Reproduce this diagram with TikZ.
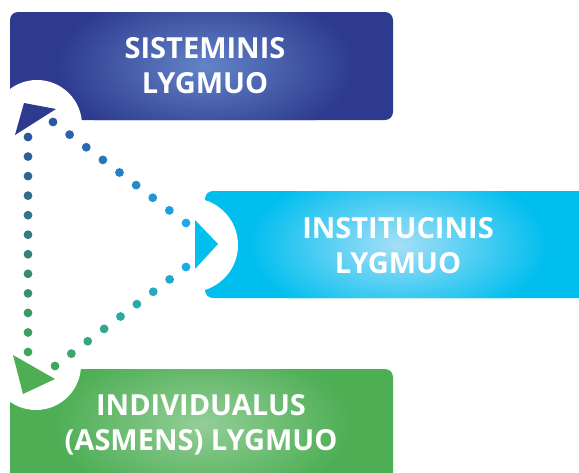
\documentclass[tikz,border=0pt]{standalone}
\usepackage{fontspec}
\setmainfont{Open Sans}
\usetikzlibrary{calc}

\definecolor{sysblue}{HTML}{2D3A8E}
\definecolor{syslight}{HTML}{6384C8}
\definecolor{instblue}{HTML}{00BEEE}
\definecolor{instlight}{HTML}{A6DFF7}
\definecolor{indgreen}{HTML}{4DAE54}
\definecolor{indlight}{HTML}{93CE97}
\definecolor{sysdot}{HTML}{2B56A3}
\definecolor{instdot}{HTML}{1CABE2}
\definecolor{inddot}{HTML}{3FA65A}

% dots from #1 to #2, #3 gaps, colour #4 -> #5
\newcommand{\dotrow}[5]{%
  \foreach \i in {0,...,#3}{
    \pgfmathsetmacro{\t}{\i/#3}
    \pgfmathtruncatemacro{\pc}{100-100*\i/#3}
    \fill[#4!\pc!#5] ($(#1)!\t!(#2)$) circle (4.4pt);
  }}

\begin{document}
\begin{tikzpicture}[x=1pt,y=-1pt]

    \tikzset{
      levelbox/.style={rounded corners=8pt},
      leveltext/.style={
        text=white,
        font=\bfseries\fontsize{29}{35}\selectfont,
        align=center,
      },
    }
    \useasboundingbox (0,0) rectangle (579,472);

    % boxes with a light glow in the middle
    \fill[levelbox, sysblue] (10,12) rectangle (393,120);
    \begin{scope}
      \clip[levelbox] (10,12) rectangle (393,120);
      \shade[inner color=syslight, outer color=sysblue] (205,66) ellipse (150pt and 80pt);
    \end{scope}
    \fill[levelbox, instblue] (205,191) rectangle (600,298);
    \begin{scope}
      \clip[levelbox] (205,191) rectangle (600,298);
      \shade[inner color=instlight, outer color=instblue] (398,245) ellipse (150pt and 80pt);
    \end{scope}
    \fill[levelbox, indgreen] (10,369) rectangle (393,490);
    \begin{scope}
      \clip[levelbox] (10,369) rectangle (393,490);
      \shade[inner color=indlight, outer color=indgreen] (202,424) ellipse (150pt and 80pt);
    \end{scope}

    % white cut-outs round the arrow heads
    \fill[white] (37,125) circle (45pt);
    \fill[white] (191,245) circle (47pt);
    \fill[white] (36,365) circle (45pt);

    \node[leveltext] (sys) at (205,66) {SISTEMINIS\\LYGMUO};
    \node[leveltext] (inst) at (398,246) {INSTITUCINIS\\LYGMUO};
    \node[leveltext] (ind) at (201,425) {INDIVIDUALUS\\(ASMENS) LYGMUO};

    % arrow heads
    \fill[sysblue] (24,103) -- (56,109) -- (15,135) -- cycle;
    \fill[instblue] (195,220) -- (218,244) -- (195,269) -- cycle;
    \fill[indgreen] (13,355) -- (55,379) -- (23,394) -- cycle;

    % dotted connectors
    \coordinate (sysV) at (28,137);
    \coordinate (indV) at (28,352);
    \coordinate (sysD) at (53,122);
    \coordinate (instU) at (186,223);
    \coordinate (instL) at (186,267);
    \coordinate (indD) at (55,366);
    \dotrow{sysV}{indV}{11}{sysdot}{inddot}
    \dotrow{sysD}{instU}{8}{sysdot}{instdot}
    \dotrow{instL}{indD}{8}{instdot}{inddot}

\end{tikzpicture}
\end{document}
